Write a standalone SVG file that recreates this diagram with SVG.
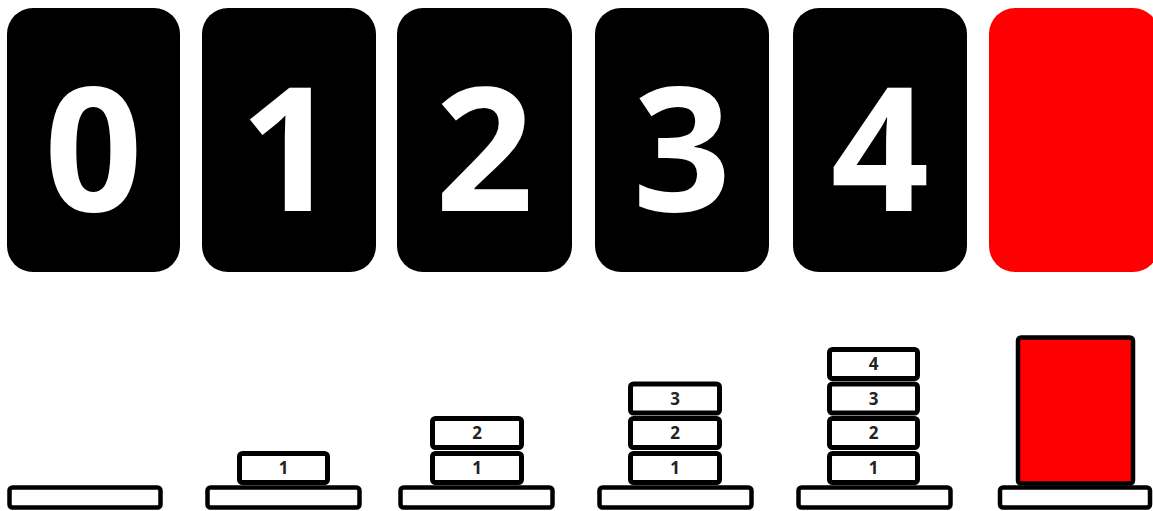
<svg xmlns="http://www.w3.org/2000/svg" width="1153" height="511" viewBox="0 0 1153 511">
<style>
.card{fill:#000}
.red{fill:#ff0000}
.dig{font-family:"Open Sans","Noto Sans",sans-serif;font-weight:700;font-size:172px;fill:#fff;text-anchor:middle}
.base{fill:#fff;stroke:#000;stroke-width:4.5}
.disk{fill:#fff;stroke:#000;stroke-width:5}
.big{fill:#ff0000;stroke:#000;stroke-width:4.5}
.lbl{font-family:"Open Sans","Noto Sans",sans-serif;font-weight:700;font-size:17px;fill:#222;text-anchor:middle}
</style>
<rect width="1153" height="511" fill="#fff"/>
<g id="card0"><rect class="card" x="7" y="8" width="173" height="264" rx="26"/><text class="dig" x="93.5" y="211">0</text></g>
<g id="card1"><rect class="card" x="202" y="8" width="174" height="264" rx="26"/><text class="dig" x="289" y="211">1</text></g>
<g id="card2"><rect class="card" x="397" y="8" width="175" height="264" rx="26"/><text class="dig" x="484.5" y="211">2</text></g>
<g id="card3"><rect class="card" x="595" y="8" width="174" height="264" rx="26"/><text class="dig" x="682" y="211">3</text></g>
<g id="card4"><rect class="card" x="793" y="8" width="174" height="264" rx="26"/><text class="dig" x="880" y="211">4</text></g>
<g id="card5"><rect class="red" x="989" y="8" width="170" height="264" rx="26"/></g>

<g id="stack0"><rect class="base" x="9.5" y="487.5" width="151" height="20" rx="3"/></g>
<g id="stack1">
<rect class="base" x="207.5" y="487.5" width="152" height="20" rx="3"/>
<rect class="disk" x="239.5" y="453.5" width="88" height="29" rx="3"/><text class="lbl" x="283.5" y="474">1</text>
</g>
<g id="stack2">
<rect class="base" x="400.5" y="487.5" width="152" height="20" rx="3"/>
<rect class="disk" x="432.5" y="453.5" width="89" height="29" rx="3"/><text class="lbl" x="477" y="474">1</text>
<rect class="disk" x="432.5" y="418.5" width="89" height="29" rx="3"/><text class="lbl" x="477" y="439">2</text>
</g>
<g id="stack3">
<rect class="base" x="599.5" y="487.5" width="152" height="20" rx="3"/>
<rect class="disk" x="630.5" y="453.5" width="89" height="29" rx="3"/><text class="lbl" x="675" y="474">1</text>
<rect class="disk" x="630.5" y="418.5" width="89" height="29" rx="3"/><text class="lbl" x="675" y="439">2</text>
<rect class="disk" x="630.5" y="384" width="89" height="29" rx="3"/><text class="lbl" x="675" y="404.5">3</text>
</g>
<g id="stack4">
<rect class="base" x="798.5" y="487.5" width="152" height="20" rx="3"/>
<rect class="disk" x="829.5" y="453.5" width="88" height="29" rx="3"/><text class="lbl" x="873.5" y="474">1</text>
<rect class="disk" x="829.5" y="418.5" width="88" height="29" rx="3"/><text class="lbl" x="873.5" y="439">2</text>
<rect class="disk" x="829.5" y="384" width="88" height="29" rx="3"/><text class="lbl" x="873.5" y="404.5">3</text>
<rect class="disk" x="829.5" y="349.5" width="88" height="29" rx="3"/><text class="lbl" x="873.5" y="370">4</text>
</g>
<g id="stack5">
<rect class="base" x="1000" y="487.5" width="150" height="20" rx="3"/>
<rect class="big" x="1018" y="337.5" width="115" height="146" rx="3"/>
</g>
</svg>
